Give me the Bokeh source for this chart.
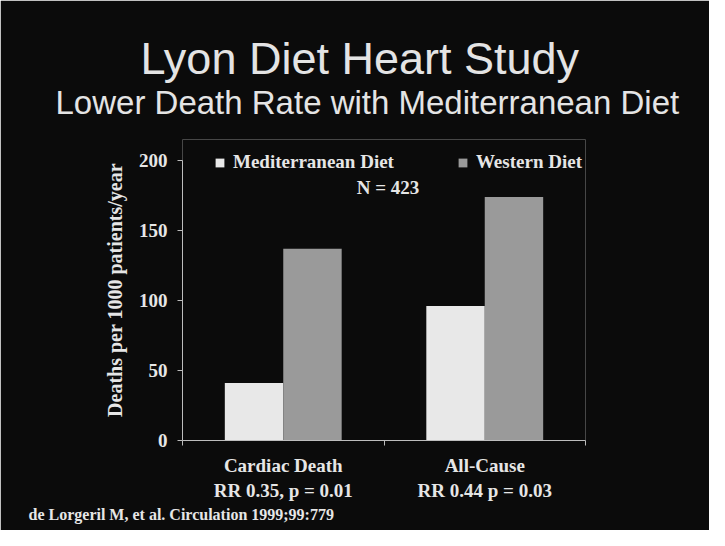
from bokeh.plotting import figure
from bokeh.models import Range1d, FixedTicker, Label, Legend, LegendItem, ColumnDataSource, Title
from bokeh.embed import file_html
from bokeh.resources import INLINE

# ---- data ----
categories = ["Cardiac Death", "All-Cause"]
rr_labels = ["RR 0.35, p = 0.01", "RR 0.44 p = 0.03"]
mediterranean = [41, 96]
western = [137, 174]
y_ticks = [0, 50, 100, 150, 200]
series_names = ["Mediterranean Diet", "Western Diet"]

BG = "#0b0b0b"
TXT = "#e6e6e6"
AX = "#bdbdbd"
SERIF = "Liberation Serif"
SANS = "Liberation Sans"

p = figure(frame_width=403, frame_height=301,
           min_border_left=182, min_border_right=124,
           min_border_top=139, min_border_bottom=90,
           x_range=Range1d(0, len(categories)), y_range=Range1d(0, 215),
           output_backend="svg", toolbar_location=None)
p.background_fill_color = BG
p.border_fill_color = BG
p.outline_line_color = None
p.xgrid.visible = False
p.ygrid.visible = False

idx = list(range(len(categories)))
bw = 0.29
src = ColumnDataSource(dict(
    xm=[i + 0.5 - bw / 2 for i in idx],
    xw=[i + 0.5 + bw / 2 for i in idx],
    med=mediterranean, wes=western))
r_med = p.vbar(x="xm", top="med", bottom=0, width=bw, source=src,
               fill_color="#e8e8e8", line_color=None)
r_wes = p.vbar(x="xw", top="wes", bottom=0, width=bw, source=src,
               fill_color="#9a9a9a", line_color=None)

# x axis: category labels at centres, tick marks at category boundaries
xa = p.xaxis[0]
xa.ticker = FixedTicker(ticks=[i + 0.5 for i in idx], minor_ticks=list(range(len(categories) + 1)))
xa.major_label_overrides = {i + 0.5: categories[i] + "\n" + rr_labels[i] for i in idx}
xa.major_tick_line_color = None
xa.major_tick_out = 0
xa.major_tick_in = 0
xa.minor_tick_out = 5
xa.minor_tick_in = 0
xa.minor_tick_line_color = AX
xa.axis_line_color = AX
xa.major_label_standoff = 9
xa.major_label_text_font = SERIF
xa.major_label_text_font_style = "bold"
xa.major_label_text_font_size = "19px"
xa.major_label_text_color = TXT
xa.major_label_text_line_height = 1.2

ya = p.yaxis[0]
ya.ticker = FixedTicker(ticks=y_ticks)
ya.bounds = (0, 200)
ya.major_tick_out = 5
ya.major_tick_in = 0
ya.minor_tick_line_color = None
ya.axis_line_color = AX
ya.major_tick_line_color = AX
ya.major_label_standoff = 10
ya.major_label_text_font = SERIF
ya.major_label_text_font_style = "bold"
ya.major_label_text_font_size = "19px"
ya.major_label_text_color = TXT
ya.axis_label = "Deaths per 1000 patients/year"
ya.axis_label_text_font = SERIF
ya.axis_label_text_font_style = "bold"
ya.axis_label_text_font_size = "20px"
ya.axis_label_text_color = TXT
ya.axis_label_standoff = 10

# legend
legend = Legend(items=[LegendItem(label=series_names[0], renderers=[r_med]),
                       LegendItem(label=series_names[1], renderers=[r_wes])],
                orientation="horizontal", location=(32, 267),
                glyph_width=11, glyph_height=11, label_height=18,
                label_standoff=8, spacing=63, padding=0, margin=0,
                background_fill_alpha=0, border_line_alpha=0,
                label_text_font=SERIF, label_text_font_style="bold",
                label_text_font_size="19px", label_text_color=TXT)
p.add_layout(legend)

# titles (closest to the plot added first)
p.add_layout(Title(text="Lower Death Rate with Mediterranean Diet", align="left", offset=-127,
                   standoff=37, text_font=SANS, text_font_style="normal",
                   text_font_size="33px", text_color="#e4e4e4"), "above")
p.add_layout(Title(text="Lyon Diet Heart Study", align="left", offset=-42,
                   standoff=-41, text_font=SANS, text_font_style="normal",
                   text_font_size="45px", text_color="#e4e4e4"), "above")
p.add_layout(Title(text="de Lorgeril M, et al. Circulation 1999;99:779", align="left", offset=-154,
                   standoff=0, text_font=SERIF, text_font_style="bold",
                   text_font_size="16px", text_color=TXT), "below")

# annotation inside the plot
p.add_layout(Label(x=1.02, y=181, text="N = 423", text_font=SERIF, text_font_style="bold",
                   text_font_size="19px", text_color=TXT, text_align="center",
                   text_baseline="middle"))

open("out.html", "w").write(file_html(p, INLINE))
